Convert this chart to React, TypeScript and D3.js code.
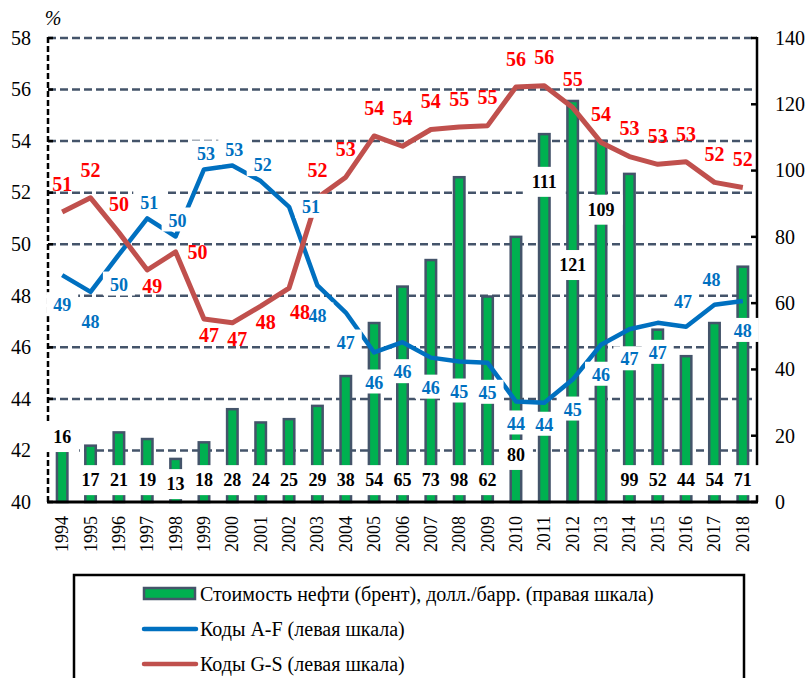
import React from 'react';
import * as d3 from 'd3';

const years = ['1994', '1995', '1996', '1997', '1998', '1999', '2000', '2001', '2002', '2003', '2004', '2005', '2006',
  '2007', '2008', '2009', '2010', '2011', '2012', '2013', '2014', '2015', '2016', '2017', '2018'];

// brent, usd per barrel (right scale)
const oilPrice = [16, 17, 21, 19, 13, 18, 28, 24, 25, 29, 38, 54, 65, 73, 98, 62, 80, 111, 121, 109, 99, 52, 44, 54, 71];

// shares, % (left scale)
const codesAF = [48.8, 48.15, 49.6, 51.0, 50.3, 52.9, 53.05, 52.45, 51.45, 48.4, 47.35, 45.8, 46.2, 45.6, 45.45, 45.4,
  43.9, 43.85, 44.75, 46.1, 46.7, 46.95, 46.8, 47.65, 47.8];
const codesGS = [51.25, 51.8, 50.45, 49.0, 49.7, 47.1, 46.95, 47.6, 48.3, 51.8, 52.6, 54.2, 53.8, 54.45, 54.55, 54.6,
  56.1, 56.15, 55.3, 53.95, 53.4, 53.1, 53.2, 52.4, 52.2];

const leftTicks = [40, 42, 44, 46, 48, 50, 52, 54, 56, 58];
const rightTicks = [0, 20, 40, 60, 80, 100, 120, 140];

const legendItems = [
  'Стоимость нефти (брент), долл./барр. (правая шкала)',
  'Коды A-F (левая шкала)',
  'Коды G-S (левая шкала)',
];

// where the data labels sit (a above, b below, r right ...)
const afPlace = 'bbbaaaaarbbbbbbbnnbbbbAAb';
const gsPlace = 'aaabrbbbBaaaaaaaaaaaaaaaa';
const afOffset: Record<string, [number, number]> = { b: [0, 30], a: [2, -16], r: [22, 0], n: [0, 22], A: [-3, -25] };
const gsOffset: Record<string, [number, number]> = { a: [0, -28], b: [5, 16], r: [22, 0], B: [11, 24] };
// bar labels moved off the base (in right-scale units)
const barLabelAt: Record<string, number> = { '1994': 19.6, '1998': 5.4, '2010': 14.2, '2011': 96.6, '2012': 71.5, '2013': 88.2 };

const BLUE = '#0070C0';
const BROWN = '#C0504D';
const RED = '#FF0000';
const GREEN = '#00B050';
const SLATE = '#44546A';
const FONT = "'Liberation Serif', 'Times New Roman', Tinos, 'DejaVu Serif', serif";

const W = 810;
const H = 678;
const left = 48;
const right = 757;
const top = 38;
const bottom = 502;

export default function App() {
  const x = d3.scaleBand<string>().domain(years).range([left, right]).padding(0);
  const yL = d3.scaleLinear().domain([40, 58]).range([bottom, top]);
  const yR = d3.scaleLinear().domain([0, 140]).range([bottom, top]);
  const cx = (y: string) => (x(y) as number) + x.bandwidth() / 2;
  const barW = x.bandwidth() * 0.37;

  const line = d3.line<number>()
    .x((_, i) => cx(years[i]))
    .y((d) => yL(d));

  const digitW = (s: string, fs: number) => s.length * fs * 0.5;

  return (
    <div style={{ position: 'absolute', left: 0, top: 0, fontFamily: FONT }}>
      <svg width={W} height={H} style={{ display: 'block', background: '#fff', fontFamily: FONT }}>
        {/* grid */}
        {leftTicks.filter((t) => t > 40).map((t) => (
          <line key={t} x1={left} x2={right} y1={yL(t)} y2={yL(t)} stroke={SLATE} strokeWidth={2.5} strokeDasharray="8,4" />
        ))}

        {/* bars */}
        {oilPrice.map((v, i) => (
          <rect key={years[i]} x={cx(years[i]) - barW / 2} y={yR(v)} width={barW} height={bottom - yR(v)}
            fill={GREEN} stroke={SLATE} strokeWidth={2.5} />
        ))}

        {/* axes */}
        <line x1={left} x2={left} y1={top - 1} y2={bottom} stroke="#000" strokeWidth={2.5} strokeDasharray="6,3" />
        {leftTicks.map((t) => (
          <g key={t}>
            <line x1={left} x2={left + 5} y1={yL(t)} y2={yL(t)} stroke="#000" strokeWidth={2.5} />
            <text x={31} y={yL(t)} dy="0.34em" textAnchor="end" fontSize={20}>{t}</text>
          </g>
        ))}
        <line x1={right} x2={right} y1={top - 1} y2={bottom} stroke="#000" strokeWidth={2.5} />
        {rightTicks.map((t) => (
          <g key={t}>
            <line x1={right - 6} x2={right} y1={yR(t)} y2={yR(t)} stroke="#000" strokeWidth={2.5} />
            <text x={775} y={yR(t)} dy="0.34em" textAnchor="start" fontSize={20}>{t}</text>
          </g>
        ))}
        <line x1={left - 1} x2={right + 1} y1={bottom} y2={bottom} stroke="#000" strokeWidth={3} />
        <text x={53} y={25} textAnchor="middle" fontSize={20} fontStyle="italic">%</text>

        {years.map((yr) => (
          <text key={yr} transform={`translate(${cx(yr) + 6},${516}) rotate(-90)`} textAnchor="end" fontSize={18}>{yr}</text>
        ))}

        {/* lines */}
        <path d={line(codesAF) as string} fill="none" stroke={BLUE} strokeWidth={4.5} strokeLinejoin="round" />
        <path d={line(codesGS) as string} fill="none" stroke={BROWN} strokeWidth={5} strokeLinejoin="round" />

        {/* bar labels */}
        {oilPrice.map((v, i) => {
          const yr = years[i];
          const ly = yR(barLabelAt[yr] ?? 6.6);
          const s = String(v);
          const bw = digitW(s, 18) + 16;
          return (
            <g key={yr}>
              <rect x={cx(yr) - bw / 2} y={ly - 15} width={bw} height={30} fill="#fff" />
              <text x={cx(yr)} y={ly} dy="0.34em" textAnchor="middle" fontSize={18} fontWeight="bold">{s}</text>
            </g>
          );
        })}

        {/* A-F labels */}
        {codesAF.map((v, i) => {
          const [dx, dy] = afOffset[afPlace[i]];
          const lx = cx(years[i]) + dx;
          const ly = yL(v) + dy;
          const s = String(Math.round(v));
          const bw = digitW(s, 18) + 14;
          return (
            <g key={years[i]}>
              <rect x={lx - bw / 2} y={ly - 13} width={bw} height={24} fill="#fff" />
              <text x={lx} y={ly} dy="0.34em" textAnchor="middle" fontSize={18} fontWeight="bold" fill={BLUE}>{s}</text>
            </g>
          );
        })}

        {/* G-S labels */}
        {codesGS.map((v, i) => {
          const [dx, dy] = gsOffset[gsPlace[i]];
          return (
            <text key={years[i]} x={cx(years[i]) + dx} y={yL(v) + dy} dy="0.34em" textAnchor="middle"
              fontSize={20} fontWeight="bold" fill={RED}>{Math.round(v)}</text>
          );
        })}

        {/* legend */}
        <rect x={74} y={575} width={670} height={120} fill="#fff" stroke="#000" strokeWidth={2.5} />
        {legendItems.map((t, i) => {
          const ly = 594 + i * 35;
          return (
            <g key={t}>
              {i === 0 ? (
                <rect x={144} y={ly - 6} width={51} height={11} fill={GREEN} stroke={SLATE} strokeWidth={2.5} />
              ) : (
                <line x1={144} x2={196} y1={ly} y2={ly} stroke={i === 1 ? BLUE : BROWN} strokeWidth={4.5} strokeLinecap="round" />
              )}
              <text x={200} y={ly} dy="0.34em" fontSize={20}>{t}</text>
            </g>
          );
        })}
      </svg>
    </div>
  );
}
